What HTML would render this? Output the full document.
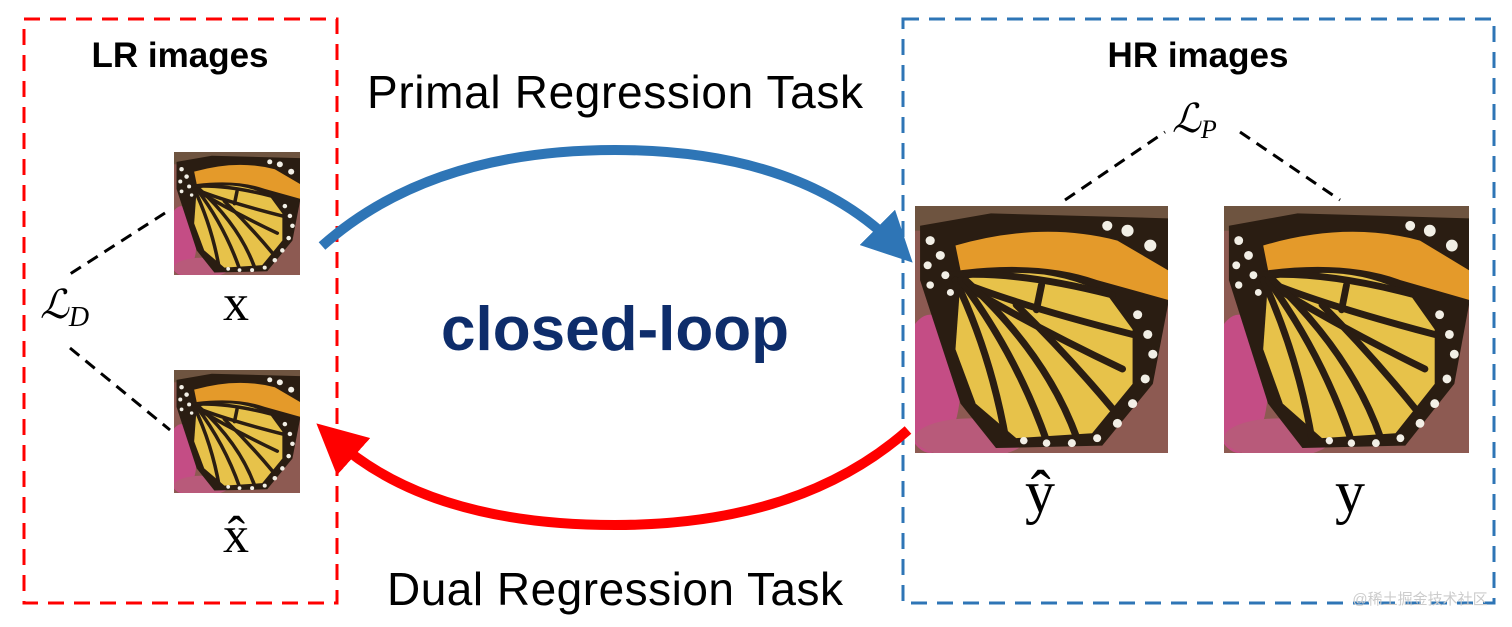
<!DOCTYPE html>
<html><head><meta charset="utf-8"><style>
html,body{margin:0;padding:0;background:#fff;width:1512px;height:627px;overflow:hidden}
svg{display:block}
</style></head><body>
<svg width="1512" height="627" viewBox="0 0 1512 627" xmlns="http://www.w3.org/2000/svg">
<defs>
<symbol id="bf" viewBox="0 0 100 100" preserveAspectRatio="none">
  <rect width="100" height="100" fill="#8d5a52"/>
  <rect width="100" height="10" fill="#6e5440"/>
  <ellipse cx="6" cy="72" rx="12" ry="28" fill="#c44d85"/>
  <ellipse cx="22" cy="94" rx="22" ry="8" fill="#b85a7a"/>
  <path d="M2 8 L30 3 L100 5 L100 40 L94 72 L74 97 L32 98 L18 80 L10 55 L2 30 Z" fill="#2a1d12"/>
  <path d="M16 16 Q50 6 80 14 L100 26 L100 38 L72 30 Q50 22 18 26 Z" fill="#e49a2a"/>
  <path d="M18 30 Q50 22 76 36 L86 50 L86 72 L70 92 L40 94 L24 80 L16 58 Z" fill="#e7c24a"/>
  <g stroke="#2a1d12" stroke-width="2.8" fill="none" stroke-linecap="round">
    <path d="M14 28 Q40 26 78 36"/>
    <path d="M16 30 Q40 40 86 52"/>
    <path d="M16 30 Q45 48 82 66"/>
    <path d="M16 30 Q30 60 36 95"/>
    <path d="M18 30 Q40 60 52 95"/>
    <path d="M20 30 Q52 60 64 94"/>
    <path d="M40 40 Q60 60 78 82"/>
    <path d="M50 32 L48 42"/>
  </g>
  <g fill="#f2efe6">
    <circle cx="6" cy="14" r="1.8"/><circle cx="10" cy="20" r="1.8"/><circle cx="5" cy="24" r="1.6"/><circle cx="12" cy="28" r="1.6"/><circle cx="6" cy="32" r="1.5"/><circle cx="14" cy="35" r="1.4"/>
    <circle cx="84" cy="10" r="2.4"/><circle cx="93" cy="16" r="2.4"/><circle cx="76" cy="8" r="2"/>
    <circle cx="88" cy="44" r="1.8"/><circle cx="92" cy="52" r="1.8"/><circle cx="94" cy="60" r="1.8"/><circle cx="91" cy="70" r="1.8"/><circle cx="86" cy="80" r="1.8"/><circle cx="80" cy="88" r="1.8"/><circle cx="72" cy="94" r="1.6"/><circle cx="62" cy="96" r="1.6"/><circle cx="52" cy="96" r="1.5"/><circle cx="43" cy="95" r="1.5"/>
  </g>
</symbol>
<marker id="ab" viewBox="0 0 10 10" refX="5" refY="5" markerWidth="5" markerHeight="5" orient="auto" markerUnits="strokeWidth"><path d="M0 0 L10 5 L0 10 Z" fill="#2e75b6"/></marker>
<marker id="ar" viewBox="0 0 10 10" refX="5" refY="5" markerWidth="5" markerHeight="5" orient="auto" markerUnits="strokeWidth"><path d="M0 0 L10 5 L0 10 Z" fill="#ff0000"/></marker>
</defs>

<rect x="24" y="19" width="313" height="584" fill="none" stroke="#ff0000" stroke-width="3" stroke-dasharray="16 10"/>
<rect x="903" y="19" width="591" height="584" fill="none" stroke="#2e75b6" stroke-width="3" stroke-dasharray="16 10"/>

<text x="180" y="67" text-anchor="middle" font-family="Liberation Sans, sans-serif" font-weight="bold" font-size="35" fill="#000">LR images</text>
<text x="1198" y="67" text-anchor="middle" font-family="Liberation Sans, sans-serif" font-weight="bold" font-size="35" fill="#000">HR images</text>

<use href="#bf" x="174" y="152" width="126" height="123"/>
<use href="#bf" x="174" y="370" width="126" height="123"/>
<use href="#bf" x="915" y="206" width="253" height="247"/>
<use href="#bf" x="1224" y="206" width="245" height="247"/>

<g stroke="#000" stroke-width="3" stroke-dasharray="12 8" fill="none">
  <line x1="165" y1="213" x2="70" y2="274"/>
  <line x1="70" y1="348" x2="170" y2="430"/>
  <line x1="1065" y1="200" x2="1165" y2="132"/>
  <line x1="1240" y1="132" x2="1340" y2="200"/>
</g>

<text x="236" y="320" text-anchor="middle" font-family="Liberation Serif, serif" font-size="52" fill="#000">x</text>
<text x="236" y="552" text-anchor="middle" font-family="Liberation Serif, serif" font-size="52" fill="#000">x̂</text>
<text x="1040" y="512" text-anchor="middle" font-family="Liberation Serif, serif" font-size="60" fill="#000">ŷ</text>
<text x="1350" y="512" text-anchor="middle" font-family="Liberation Serif, serif" font-size="60" fill="#000">y</text>

<text x="40" y="318" font-family="Liberation Serif, serif" font-style="italic" font-size="40" fill="#000">ℒ<tspan font-size="28" dy="8">D</tspan></text>
<text x="1172" y="132" font-family="Liberation Serif, serif" font-style="italic" font-size="40" fill="#000">ℒ<tspan font-size="26" dy="6">P</tspan></text>

<text x="615" y="108" text-anchor="middle" font-family="Liberation Sans, sans-serif" font-size="46" textLength="496" fill="#000">Primal Regression Task</text>
<text x="615" y="605" text-anchor="middle" font-family="Liberation Sans, sans-serif" font-size="46" textLength="456" fill="#000">Dual Regression Task</text>
<text x="615" y="350" text-anchor="middle" font-family="Liberation Sans, sans-serif" font-weight="bold" font-size="62" fill="#0e2d6b">closed-loop</text>

<path d="M322 246 Q430 150 615 150 Q800 150 895 245" fill="none" stroke="#2e75b6" stroke-width="10" marker-end="url(#ab)"/>
<path d="M908 430 Q800 525 615 525 Q430 525 335 440" fill="none" stroke="#ff0000" stroke-width="10" marker-end="url(#ar)"/>

<text x="1420" y="604" text-anchor="middle" font-family="Liberation Sans, 'Noto Sans CJK SC', sans-serif" font-size="15" fill="#ccc">@稀土掘金技术社区</text>
</svg>
</body></html>
